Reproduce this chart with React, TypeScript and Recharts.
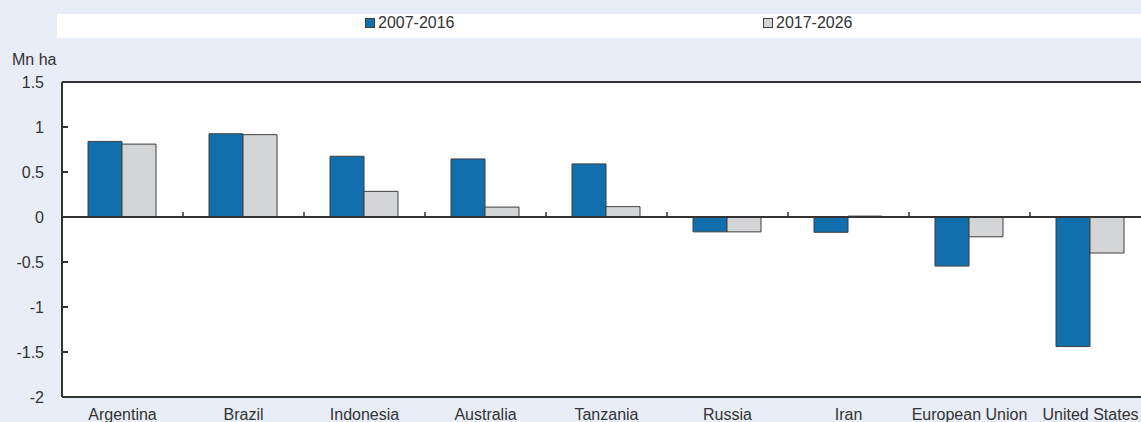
import { Bar, BarChart, ReferenceLine, XAxis, YAxis } from "recharts";

const categories = [
  "Argentina",
  "Brazil",
  "Indonesia",
  "Australia",
  "Tanzania",
  "Russia",
  "Iran",
  "European Union",
  "United States",
];
const seriesNames = ["2007-2016", "2017-2026"];
const firstPeriod = [0.84, 0.925, 0.675, 0.645, 0.59, -0.165, -0.17, -0.545, -1.44];
const secondPeriod = [0.81, 0.915, 0.285, 0.11, 0.115, -0.165, 0.01, -0.22, -0.4];
const yTicks = [-2, -1.5, -1, -0.5, 0, 0.5, 1, 1.5];

const BLUE = "#116fad";
const GREY = "#d4d5d7";
const EDGE = "#3f3f3f";
const INK = "#333333";
const BG = "#e9edf7";
const FONT = '"Liberation Sans", Arial, sans-serif';

const data = categories.map((name, i) => ({
  name,
  a: firstPeriod[i],
  b: secondPeriod[i],
}));

function YTick({ x, y, payload }: any) {
  return (
    <g>
      <line x1={x} x2={x + 6} y1={y} y2={y} stroke={INK} strokeWidth={2} />
      <text x={x - 18} y={y + 6} textAnchor="end" fontSize={16} fill={INK} fontFamily={FONT}>
        {String(payload.value)}
      </text>
    </g>
  );
}

function XTick({ x, y, payload }: any) {
  return (
    <text x={x} y={y + 23} textAnchor="middle" fontSize={16} fill={INK} fontFamily={FONT}>
      {payload.value}
    </text>
  );
}

// zero line with small upward ticks between the country groups
function ZeroLine(p: any) {
  const { x1, x2, y1 } = p;
  const step = (x2 - x1) / categories.length;
  const marks = categories.slice(1).map((_, i) => x1 + step * (i + 1));
  return (
    <g>
      <line x1={x1} x2={x2} y1={y1} y2={y1} stroke={INK} strokeWidth={2} />
      {marks.map((mx) => (
        <line key={mx} x1={mx} x2={mx} y1={y1} y2={y1 - 5} stroke={INK} strokeWidth={1.5} />
      ))}
    </g>
  );
}

function LegendBox() {
  const items = [
    { label: seriesNames[0], color: BLUE, left: 365 },
    { label: seriesNames[1], color: GREY, left: 763 },
  ];
  return (
    <div
      style={{
        position: "absolute",
        left: 57,
        top: 14,
        width: 1100,
        height: 24,
        background: "#ffffff",
      }}
    >
      {items.map((it) => (
        <div
          key={it.label}
          style={{
            position: "absolute",
            left: it.left - 57,
            top: -1,
            display: "flex",
            alignItems: "center",
            fontFamily: FONT,
            fontSize: 16,
            color: INK,
            lineHeight: "20px",
          }}
        >
          <span
            style={{
              display: "inline-block",
              width: 8,
              height: 8,
              background: it.color,
              border: `1px solid ${EDGE}`,
              marginRight: 3,
            }}
          />
          {it.label}
        </div>
      ))}
    </div>
  );
}

export default function App() {
  return (
    <div
      style={{
        position: "absolute",
        left: 0,
        top: 0,
        width: 1141,
        height: 422,
        overflow: "hidden",
        background: BG,
      }}
    >
      <LegendBox />
      <div
        style={{
          position: "absolute",
          left: 12,
          top: 51,
          fontFamily: FONT,
          fontSize: 16,
          color: INK,
        }}
      >
        Mn ha
      </div>
      <div style={{ position: "absolute", left: 62, top: 82, width: 1100, height: 315, background: "#fff" }} />
      <div style={{ position: "absolute", left: 0, top: 0 }}>
        <BarChart
          width={1160}
          height={422}
          data={data}
          margin={{ top: 82, right: 9, bottom: 0, left: 0 }}
          barCategoryGap="21.5%"
          barGap={0}
        >
          <XAxis
            dataKey="name"
            interval={0}
            tickLine={false}
            tickSize={0}
            tickMargin={0}
            height={25}
            axisLine={{ stroke: INK, strokeWidth: 2 }}
            tick={<XTick />}
          />
          <YAxis
            width={62}
            domain={[-2, 1.5]}
            ticks={yTicks}
            interval={0}
            tickLine={false}
            tickSize={0}
            tickMargin={0}
            axisLine={{ stroke: INK, strokeWidth: 2 }}
            tick={<YTick />}
          />
          <Bar
            dataKey="a"
            name={seriesNames[0]}
            fill={BLUE}
            stroke={EDGE}
            strokeWidth={1}
            isAnimationActive={false}
          />
          <Bar
            dataKey="b"
            name={seriesNames[1]}
            fill={GREY}
            stroke={EDGE}
            strokeWidth={1}
            isAnimationActive={false}
          />
          <ReferenceLine y={0} shape={<ZeroLine />} />
          <ReferenceLine y={1.5} stroke={INK} strokeWidth={2} />
        </BarChart>
      </div>
    </div>
  );
}
